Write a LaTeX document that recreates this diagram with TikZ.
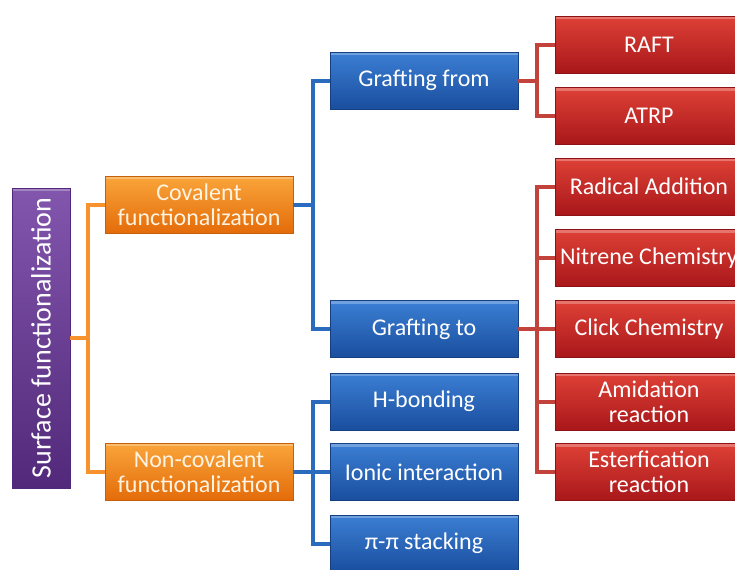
\documentclass[tikz,border=0pt]{standalone}
\usepackage{fontspec}
\setmainfont{Carlito}
\usetikzlibrary{calc}
\definecolor{purpleT}{HTML}{8256AD}
\definecolor{purpleB}{HTML}{52297A}
\definecolor{orangeT}{HTML}{F9A53A}
\definecolor{orangeB}{HTML}{E46C0A}
\definecolor{orangeD}{HTML}{C65F08}
\definecolor{blueT}{HTML}{3B7FD4}
\definecolor{blueB}{HTML}{1A4E9E}
\definecolor{blueD}{HTML}{163F82}
\definecolor{redT}{HTML}{DE4136}
\definecolor{redB}{HTML}{A9171A}
\definecolor{redD}{HTML}{8C1216}
\definecolor{lineO}{HTML}{F7922E}
\definecolor{lineB}{HTML}{2B6BBD}
\definecolor{lineR}{HTML}{C2423C}
\definecolor{txtO}{HTML}{FFF3E2}
\tikzset{
  boxbase/.style={minimum width=141pt, minimum height=42.75pt, inner sep=0pt,
    align=center, font=\fontsize{18}{19}\selectfont, text=white, line width=0.6pt,
    shading=axis, shading angle=0,
    path picture={\fill[white,opacity=0.28] (path picture bounding box.north west) rectangle ([yshift=-2.5pt]path picture bounding box.north east);}},
  obox/.style={boxbase, top color=orangeT, bottom color=orangeB, draw=orangeD, text=txtO},
  bbox/.style={boxbase, top color=blueT, bottom color=blueB, draw=blueD},
  rbox/.style={boxbase, top color=redT, bottom color=redB, draw=redD},
  pbox/.style={boxbase, minimum width=43.5pt, minimum height=225pt, top color=purpleT, bottom color=purpleB, draw=purpleB},
  oline/.style={draw=lineO, line width=3pt},
  bline/.style={draw=lineB, line width=3pt},
  rline/.style={draw=lineR, line width=3pt},
}
\begin{document}
\begin{tikzpicture}[x=0.75pt,y=-0.75pt]
\useasboundingbox (0,0) rectangle (735,569);
\fill[white] (0,0) rectangle (735,569);
\begin{scope}
\clip (0,0) rectangle (735,569);
\node[pbox] (sf) at (41,338) {};
\node[rotate=90, text=white, font=\fontsize{21}{24}\selectfont] (sft) at (sf.center) {Surface functionalization};
\node[obox] (cov) at (199,204.5) {Covalent\\functionalization};
\node[obox] (ncov) at (199,471.5) {Non-covalent\\functionalization};
\node[bbox] (gfrom) at (424,80.5) {Grafting from};
\node[bbox] (gto) at (424,329) {Grafting to};
\node[bbox] (hb) at (424,401.5) {H-bonding};
\node[bbox] (ionic) at (424,472) {Ionic interaction};
\node[bbox] (pipi) at (424,543.5) {π-π stacking};
\node[rbox] (raft) at (649,44.5) {RAFT};
\node[rbox] (atrp) at (649,116) {ATRP};
\node[rbox] (rad) at (649,186.5) {Radical Addition};
\node[rbox] (nit) at (649,258) {Nitrene Chemistry};
\node[rbox] (click) at (649,329) {Click Chemistry};
\node[rbox] (amid) at (649,401.5) {Amidation\\reaction};
\node[rbox] (ester) at (649,472) {Esterfication\\reaction};
\draw[oline] (sf.east) -- ++(18,0) coordinate (oj);
\draw[oline] (oj) |- (cov.west);
\draw[oline] (oj) |- (ncov.west);
\draw[bline] (cov.east) -- ++(20,0) coordinate (bj1);
\draw[bline] (bj1) |- (gfrom.west);
\draw[bline] (bj1) |- (gto.west);
\draw[bline] (ncov.east) -- ++(20,0) coordinate (bj2);
\draw[bline] (bj2) |- (hb.west);
\draw[bline] (bj2) |- (ionic.west);
\draw[bline] (bj2) |- (pipi.west);
\draw[rline] (gfrom.east) -- ++(19,0) coordinate (rj1);
\draw[rline] (rj1) |- (raft.west);
\draw[rline] (rj1) |- (atrp.west);
\draw[rline] (gto.east) -- ++(19,0) coordinate (rj2);
\draw[rline] (rj2) |- (rad.west);
\draw[rline] (rj2) |- (nit.west);
\draw[rline] (rj2) |- (click.west);
\draw[rline] (rj2) |- (amid.west);
\draw[rline] (rj2) |- (ester.west);
\end{scope}
\end{tikzpicture}
\end{document}
